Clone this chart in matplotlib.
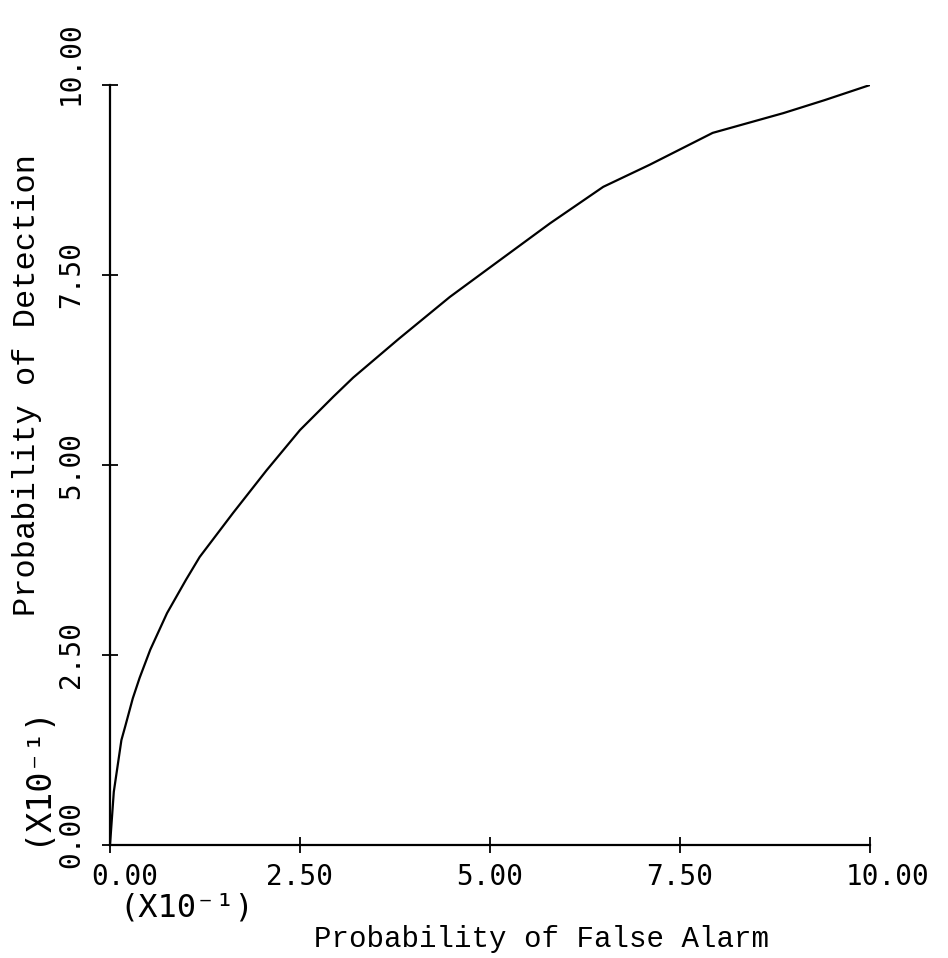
import matplotlib.pyplot as plt
from matplotlib.transforms import ScaledTranslation

# ROC curve (both axes in units of 0.1)
pfa = [0.0, 0.05, 0.15, 0.2, 0.3, 0.39, 0.53, 0.75, 1.0, 1.18, 1.4, 1.62, 2.06,
       2.5, 2.94, 3.2, 3.8, 4.47, 5.0, 5.79, 6.49, 7.1, 7.93, 8.86, 9.4, 10.0]
pdet = [0.0, 0.7, 1.38, 1.56, 1.93, 2.2, 2.57, 3.05, 3.49, 3.79, 4.08, 4.37, 4.93,
        5.46, 5.9, 6.15, 6.66, 7.21, 7.6, 8.18, 8.66, 8.95, 9.37, 9.63, 9.8, 10.0]
ticks = [0.0, 2.5, 5.0, 7.5, 10.0]
tick_labels = ["0.00", "2.50", "5.00", "7.50", "10.00"]

MONO = ["DejaVu Sans Mono"]
TYPE = ["Liberation Mono", "DejaVu Sans Mono"]

fig = plt.figure(figsize=(9.48, 9.58), dpi=100)
ax = fig.add_axes([110 / 948, 1 - 845 / 958, 760 / 948, 760 / 958])
ax.plot(pfa, pdet, color="black", lw=1.6, solid_joinstyle="round")

ax.set_xlim(0, 10)
ax.set_ylim(0, 10)
ax.spines["top"].set_visible(False)
ax.spines["right"].set_visible(False)
for s in ("left", "bottom"):
    ax.spines[s].set_linewidth(1.6)
    ax.spines[s].set_color("black")

ax.set_xticks(ticks)
ax.set_xticklabels(tick_labels, family=MONO, fontsize=20)
ax.set_yticks(ticks)
ax.set_yticklabels(tick_labels, family=MONO, fontsize=20, rotation=90, va="center")
ax.tick_params(direction="inout", length=12, width=1.3)
ax.tick_params(axis="x", pad=7)
ax.tick_params(axis="y", pad=12)


# end labels nudged away from the corner, like the plotter did
def nudge(lab, dx, dy):
    lab.set_transform(lab.get_transform() + ScaledTranslation(dx / 100, dy / 100, fig.dpi_scale_trans))


xl = ax.get_xticklabels()
yl = ax.get_yticklabels()
nudge(xl[0], 15, 0)
nudge(xl[-1], 18, 0)
nudge(yl[0], 0, 10)
nudge(yl[-1], 0, 22)

fig.text(542 / 948, 1 - 947 / 958, "Probability of False Alarm", family=TYPE,
         fontsize=21, ha="center", va="baseline")
fig.text(27 / 948, 1 - 385 / 958, "Probability of Detection", family=TYPE,
         fontsize=23, ha="center", va="center", rotation=90)
fig.text(187 / 948, 1 - 908 / 958, "(X10\u207b\u00b9)", family=MONO,
         fontsize=23, ha="center", va="center")
fig.text(35 / 948, 1 - 775 / 958, "(X10\u207b\u00b9)", family=MONO,
         fontsize=24, ha="center", va="center", rotation=90)

fig.savefig("out.png", dpi=100)
